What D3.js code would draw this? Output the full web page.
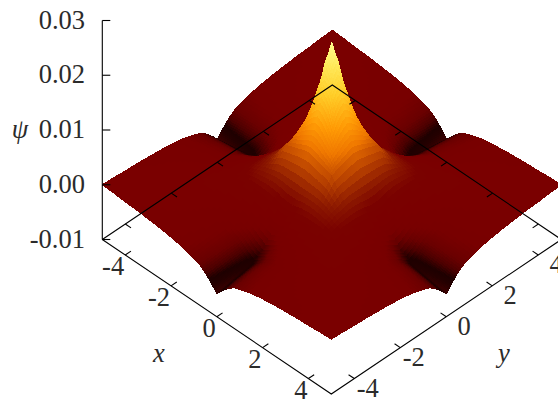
<!DOCTYPE html><meta charset="utf-8"><style>
    body { margin: 0; background: #fff; overflow: hidden; }
    svg { display: block; }
    text { font-family: "Liberation Serif", serif; font-size: 26.5px; fill: #2b2b2b; }
    .lab { font-style: italic; }
</style><svg width="558" height="401"></svg><script src="https://cdn.jsdelivr.net/npm/d3@7"></script><script>

    var width = 558, height = 401;

    // node positions of the read-off grid, |x| and |y|, denser near the spike
    var gridPos = [0, 0.15, 0.3, 0.5, 0.75, 1, 1.5, 2, 2.5, 3, 3.5, 4, 4.5, 5];

    // psi * 1e4, one quadrant (surface looks mirrored in both axes)
    var psiRows = [
        [260, 235, 198, 162, 120, 86, 42, 12, -12, -35, -45, -50, -54, -58],
        [235, 222, 190, 156, 117, 85, 42, 12, -10, -31, -41, -44, -47, -50],
        [198, 190, 176, 146, 112, 83, 42, 14, -7, -27, -36, -38, -40, -43],
        [162, 156, 146, 128, 104, 80, 42, 18, -3, -20, -29, -30, -32, -34],
        [120, 117, 112, 104, 95, 76, 42, 20, 0, -14, -22, -23, -25, -26],
        [86, 85, 83, 80, 76, 72, 40, 21, 3, -9, -17, -18, -20, -22],
        [42, 42, 42, 42, 42, 40, 32, 21, 7, -3, -11, -12, -13, -15],
        [12, 12, 14, 18, 20, 21, 21, 16, 8, 2, -4, -7, -9, -11],
        [-12, -10, -7, -3, 0, 3, 7, 8, 8, 4, 1, -3, -6, -8],
        [-35, -31, -27, -20, -14, -9, -3, 2, 4, 5, 3, -1, -4, -6],
        [-45, -41, -36, -29, -22, -17, -11, -4, 1, 3, 3, 0, -3, -4],
        [-50, -44, -38, -30, -23, -18, -12, -7, -3, -1, 0, 1, 0, -3],
        [-54, -47, -40, -32, -25, -20, -13, -9, -6, -4, -3, 0, 0, -1],
        [-58, -50, -43, -34, -26, -22, -15, -11, -8, -6, -4, -3, -1, 0]
    ];

    var xyTicks = [-4, -2, 0, 2, 4];
    var zTicks = [-0.01, 0, 0.01, 0.02, 0.03];

    var paletteStops = [-0.0058, -0.0048, -0.0042, -0.0034, -0.0025, -0.0015, 0, 0.002, 0.0036, 0.0072, 0.0095, 0.0128, 0.0176, 0.022, 0.026];
    var paletteColors = ["#3c0000", "#240000", "#1e0000", "#4c0000", "#6a0000", "#780000", "#7a0000", "#7a0200", "#8c1800", "#c85000", "#f07800", "#ff9b05", "#ffcd28", "#ffe858", "#fffb90"];

    // oblique projection: each axis adds its own screen offset
    var xToX = d3.scaleLinear([-5, 5], [0, 229]),
        xToY = d3.scaleLinear([-5, 5], [0, 154.5]),
        yToX = d3.scaleLinear([-5, 5], [0, 230]),
        yToY = d3.scaleLinear([-5, 5], [0, -154.5]),
        zToY = d3.scaleLinear([-0.01, 0.03], [0, -219]);

    var x0 = 102.3, y0 = 239.5;

    var project = (x, y, z) => [
        x0 + xToX(x) + yToX(y),
        y0 + xToY(x) + yToY(y) + zToY(z)
    ];

    var color = d3.scaleLinear().domain(paletteStops).range(paletteColors).clamp(true);

    const svg = d3.select("svg").attr("viewBox", [0, 0, width, height]);

    // mirror the quadrant into the whole surface
    var idx = d3.range(-gridPos.length + 1, gridPos.length);
    var pos = i => (i < 0 ? -1 : 1) * gridPos[Math.abs(i)];
    var val = (i, j) => psiRows[Math.abs(i)][Math.abs(j)] / 1e4;

    // front axes go under the surface
    var base = svg.append("g").attr("fill", "none").attr("stroke", "#000").attr("stroke-width", 1.1);
    var line = d3.line();
    base.append("path").attr("d", line([project(-5, -5, -0.01), project(5, -5, -0.01), project(5, 5, -0.01)]));
    xyTicks.forEach(t => {
        base.append("path").attr("d", line([project(t, -5, -0.01), project(t, -4.75, -0.01)]));
        base.append("path").attr("d", line([project(5, t, -0.01), project(4.75, t, -0.01)]));
    });

    // pm3d style cells, painted from the back corner forward, each cell split like "pm3d interpolate"
    var sub = 4, cells = [];
    d3.range(idx.length - 1).forEach(a => {
        d3.range(idx.length - 2, -1, -1).forEach(b => {
            var i0 = idx[a], i1 = idx[a + 1], j0 = idx[b], j1 = idx[b + 1];
            var z00 = val(i0, j0), z10 = val(i1, j0), z01 = val(i0, j1), z11 = val(i1, j1);
            var xa = pos(i0), xb = pos(i1), ya = pos(j0), yb = pos(j1);
            var at = (u, v) => {
                var z = (1 - u) * (1 - v) * z00 + u * (1 - v) * z10 + (1 - u) * v * z01 + u * v * z11;
                return { p: project(xa + (xb - xa) * u, ya + (yb - ya) * v, z), z: z };
            };
            d3.range(sub).forEach(m => {
                d3.range(sub - 1, -1, -1).forEach(n => {
                    var q = [at(m / sub, n / sub), at((m + 1) / sub, n / sub), at((m + 1) / sub, (n + 1) / sub), at(m / sub, (n + 1) / sub)];
                    cells.push({ pts: q.map(d => d.p), z: d3.mean(q, d => d.z) });
                });
            });
        });
    });

    svg.append("g")
        .attr("shape-rendering", "crispEdges")
        .selectAll("path")
        .data(cells)
        .join("path")
        .attr("d", d => line(d.pts) + "Z")
        .attr("fill", d => color(d.z))
        .attr("stroke", d => color(d.z))
        .attr("stroke-width", 1);

    // back lines and z axis are on top of the surface
    var over = svg.append("g").attr("fill", "none").attr("stroke", "#000").attr("stroke-width", 1.1);
    over.append("path").attr("d", line([project(-5, -5, -0.01), project(-5, 5, -0.01), project(5, 5, -0.01)]));
    xyTicks.forEach(t => {
        over.append("path").attr("d", line([project(-5, t, -0.01), project(-4.75, t, -0.01)]));
        over.append("path").attr("d", line([project(t, 5, -0.01), project(t, 4.75, -0.01)]));
    });
    over.append("path").attr("d", line([project(-5, -5, -0.01), project(-5, -5, 0.03)]));
    zTicks.forEach(t => {
        var p = project(-5, -5, t);
        over.append("path").attr("d", line([p, [p[0] + 8, p[1]]]));
    });

    // labels
    svg.append("g").selectAll("text").data(zTicks).join("text")
        .attr("x", 85)
        .attr("y", d => project(-5, -5, d)[1] + 8)
        .attr("text-anchor", "end")
        .text(d => d3.format(".2f")(d).replace("−", "-"));

    svg.append("g").selectAll("text").data(xyTicks).join("text")
        .attr("x", d => project(d, -5, -0.01)[0] - 1)
        .attr("y", d => project(d, -5, -0.01)[1] + 20)
        .attr("text-anchor", "end")
        .text(d => d);

    svg.append("g").selectAll("text").data(xyTicks).join("text")
        .attr("x", d => project(5, d, -0.01)[0] + 24.5)
        .attr("y", d => project(5, d, -0.01)[1] + 18)
        .attr("text-anchor", "end")
        .text(d => d);

    svg.append("text").attr("class", "lab").attr("x", 20).attr("y", 138).attr("text-anchor", "middle").text("ψ");
    svg.append("text").attr("class", "lab").attr("x", 159).attr("y", 362).attr("text-anchor", "middle").text("x");
    svg.append("text").attr("class", "lab").attr("x", 504).attr("y", 362).attr("text-anchor", "middle").text("y");

</script>
